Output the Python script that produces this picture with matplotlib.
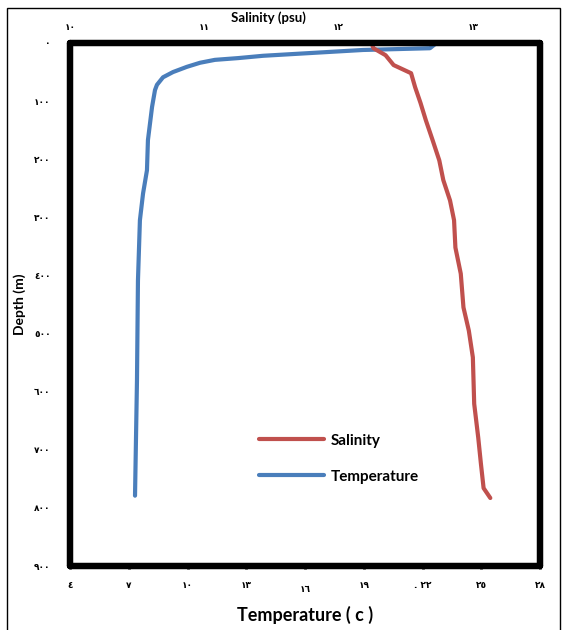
import numpy as np
import matplotlib.pyplot as plt
from matplotlib.patches import Rectangle

# depth profiles
temp_depth = [2, 9, 12, 22, 26, 29, 34, 41, 50, 59, 72, 81, 110, 167, 219, 259, 305, 409, 581, 779]
temperature = [22.64, 22.38, 18.96, 13.86, 12.58, 11.40, 10.64, 9.97, 9.26, 8.75, 8.44, 8.34,
               8.19, 7.98, 7.93, 7.73, 7.57, 7.47, 7.42, 7.32]

sal_depth = [3, 9, 21, 38, 52, 76, 103, 133, 167, 202, 236, 271, 305, 352, 397,
             455, 495, 541, 621, 679, 724, 766, 783]
salinity = [12.25, 12.26, 12.35, 12.41, 12.54, 12.57, 12.61, 12.65, 12.70, 12.75, 12.78,
            12.83, 12.86, 12.87, 12.91, 12.93, 12.97, 13.00, 13.01, 13.04, 13.06, 13.08, 13.13]

depth_ticks = [0, 100, 200, 300, 400, 500, 600, 700, 800, 900]
depth_labels = ['٠', '١٠٠', '٢٠٠', '٣٠٠', '٤٠٠', '٥٠٠', '٦٠٠', '٧٠٠', '٨٠٠', '٩٠٠']
temp_ticks = [4, 7, 10, 13, 16, 19, 22, 25, 28]
temp_labels = ['٤', '٧', '١٠', '١٣', '١٦', '١٩', '. ٢٢', '٢٥', '٢٨']
sal_ticks = [10, 11, 12, 13]
sal_labels = ['١٠', '١١', '١٢', '١٣']

blue = '#4a7ebb'
red = '#c0504d'
tick_font = dict(family=['DejaVu Sans'], size=6.5, weight='bold')
label_font = ['Lato', 'DejaVu Sans']

fig = plt.figure(figsize=(5.62, 6.30), dpi=100)
fig.patches.append(Rectangle((7 / 562, -0.01), 553 / 562, 1 - 8 / 630 + 0.01,
                             transform=fig.transFigure, fill=False, lw=1, ec='black'))

ax = fig.add_axes([70 / 562, 1 - 566 / 630, 470 / 562, 523 / 630])
ax2 = ax.twiny()

l1, = ax.plot(temperature, temp_depth, color=blue, lw=3, solid_capstyle='round',
              solid_joinstyle='round', label='Temperature')
l2, = ax2.plot(salinity, sal_depth, color=red, lw=3, solid_capstyle='round',
               solid_joinstyle='round', label='Salinity')

ax.set_xlim(4, 28)
ax.set_ylim(900, 0)
ax2.set_xlim(10, 13.5)

ax.set_xticks(temp_ticks)
ax.set_xticklabels(temp_labels, fontdict=tick_font)
ax.set_yticks(depth_ticks)
ax.set_yticklabels(depth_labels, fontdict=tick_font)
ax2.set_xticks(sal_ticks)
ax2.set_xticklabels(sal_labels, fontdict=tick_font)
# the 16 label sits a little lower in the original
ax.get_xticklabels()[4].set_y(-0.008)

ax.tick_params(axis='x', length=2, width=2, pad=9)
ax.tick_params(axis='y', length=2, width=2, pad=12)
ax2.tick_params(axis='x', length=2, width=2, pad=6)

for a in (ax, ax2):
    for s in a.spines.values():
        s.set_linewidth(4.5)
        s.set_capstyle('round')

ax.set_xlabel('Temperature ( c )', family=label_font, weight='bold', fontsize=13, labelpad=8)
ax.set_ylabel('Depth (m)', family=label_font, weight='bold', fontsize=10, labelpad=6)
fig.text(268 / 562, 1 - 18 / 630, 'Salinity (psu)', family=label_font, weight='bold',
         fontsize=9.5, ha='center', va='center')

ax.legend([l2, l1], ['Salinity', 'Temperature'], frameon=False,
          loc='upper left', bbox_to_anchor=((251 - 70) / 470, 1 - (426 - 43) / 523),
          borderpad=0, handlelength=4.3, handletextpad=0.4, labelspacing=1.45,
          prop=dict(family=label_font, weight='bold', size=11))

fig.savefig('out.png', dpi=100)
